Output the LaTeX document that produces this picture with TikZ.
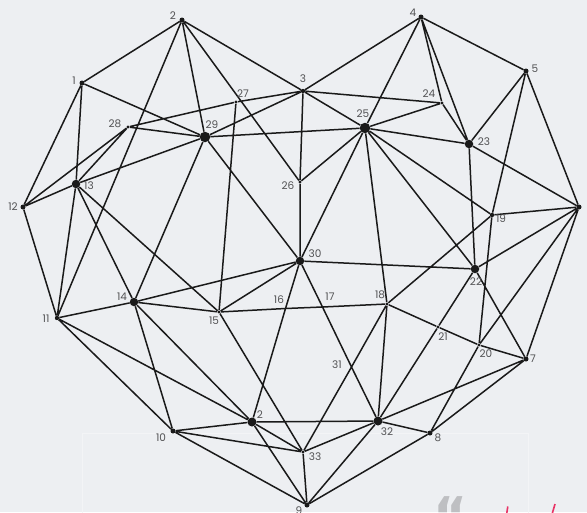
\documentclass[tikz,border=0pt]{standalone}
\usepackage{fontspec}
\setmainfont{Poppins}
\newfontfamily\guillfont{DejaVu Sans}
\usepackage{tikz}
\usepackage{xcolor}
\definecolor{fond}{RGB}{237,239,242}
\definecolor{cadre}{RGB}{243,244,246}
\definecolor{trait}{RGB}{26,26,26}
\definecolor{cgris}{RGB}{82,82,84}
\definecolor{cguill}{RGB}{190,191,194}
\definecolor{crose}{RGB}{232,52,102}

\tikzset{
  gros/.style={circle, fill=trait, inner sep=0pt, minimum size=8.5pt},
  moyen/.style={circle, fill=trait, inner sep=0pt, minimum size=5pt},
  petit/.style={circle, fill=trait, inner sep=0pt, minimum size=3.4pt},
  arete/.style={draw=trait, line width=1.5pt},
  etiq/.style={text=cgris, font=\fontsize{10.5}{11}\selectfont, inner sep=0pt},
}

\begin{document}
\begin{tikzpicture}[x=1pt, y=-1pt]
\useasboundingbox (0,0) rectangle (587,512);
\clip (0,0) rectangle (587,512);
% fond
\fill[fond] (0,0) rectangle (587,512);
\draw[cadre, line width=0.8pt] (82,520) |- (528,433) -- (528,520);
% guillemet (coupé en bas)
\node[text=cguill, font=\guillfont\bfseries\fontsize{52}{52}\selectfont, inner sep=0pt, anchor=base] (guill) at (451,534.5) {“};
\draw[crose, line width=1.6pt] (507.8,506.5) -- (506.8,513);
\draw[crose, line width=1.6pt] (555,504) -- (552.4,513);
% sommets
\node[moyen] (n1) at (82,83) {};
\node[moyen] (n2) at (182,20) {};
\node[moyen, minimum size=4.4pt] (n3) at (303,91) {};
\node[moyen] (n4) at (421,17) {};
\node[moyen] (n5) at (526,71) {};
\node[moyen] (n6) at (579,207) {};
\node[moyen] (n7) at (526,359) {};
\node[moyen] (n8) at (430,433) {};
\node[moyen] (n9) at (307,505) {};
\node[moyen] (n10) at (173,431) {};
\node[moyen, minimum size=4.4pt] (n11) at (57,318) {};
\node[moyen] (n12) at (23,207) {};
\node[gros] (n13) at (76,184) {};
\node[gros] (n14) at (134,302) {};
\node[petit] (n15) at (219,312) {};
\coordinate (n16) at (285.5,308.5);
\coordinate (n17) at (322.5,307);
\node[petit] (n18) at (387,304) {};
\node[moyen, minimum size=4.4pt] (n19) at (492,215) {};
\node[petit] (n20) at (479,345) {};
\node[petit] (n21) at (438,327) {};
\node[gros] (n22) at (475,269) {};
\node[gros] (n23) at (469,144) {};
\node[petit] (n24) at (442,103) {};
\node[gros, minimum size=10.5pt] (n25) at (365,128) {};
\node[petit] (n26) at (300,182) {};
\node[petit] (n27) at (236,102) {};
\node[petit] (n28) at (128,127) {};
\node[gros, minimum size=10.5pt] (n29) at (205,137) {};
\node[gros] (n30) at (300,261) {};
\coordinate (n31) at (351.5,367);
\node[gros, minimum size=9pt] (n32) at (378,421) {};
\node[petit] (n33) at (303,452) {};
\node[gros, minimum size=9pt] (n2b) at (252,422) {};
% aretes
\draw[arete]
  (n2) -- (n1) (n2) -- (n11) (n2) -- (n29) (n2) -- (n26) (n2) -- (n3)
  (n1) -- (n12) (n1) -- (n13) (n1) -- (n29)
  (n12) -- (n28) (n12) -- (n13) (n12) -- (n11)
  (n13) -- (n28) (n13) -- (n29) (n13) -- (n11) (n13) -- (n14) (n13) -- (n15)
  (n28) -- (n27) -- (n3) (n28) -- (n29) (n27) -- (n15)
  (n29) -- (n3) (n29) -- (n25) (n29) -- (n14) (n29) -- (n30)
  (n3) -- (n4) (n3) -- (n24) (n3) -- (n25) (n3) -- (n26)
  (n26) -- (n25) (n26) -- (n30)
  (n4) -- (n25) (n4) -- (n24) (n4) -- (n23) (n4) -- (n5)
  (n24) -- (n25) (n24) -- (n23)
  (n25) -- (n23) (n25) -- (n30) (n25) -- (n18) (n25) -- (n22) (n25) -- (n19)
  (n5) -- (n23) (n5) -- (n6) (n5) -- (n19)
  (n23) -- (n6) (n23) -- (n22)
  (n6) -- (n19) (n6) -- (n22) (n6) -- (n20) (n6) -- (n7)
  (n19) -- (n20) (n19) -- (n18)
  (n22) -- (n30) (n22) -- (n21) -- (n32) (n22) -- (n7)
  (n18) -- (n21) -- (n20) -- (n7) (n20) -- (n8)
  (n7) -- (n32) (n7) -- (n8)
  (n8) -- (n32) (n8) -- (n9);
\draw[arete]
  (n11) -- (n14) (n11) -- (n10) (n11) -- (n2b)
  (n14) -- (n30) (n14) -- (n15) (n14) -- (n10) (n14) -- (n2b)
  (n15) -- (n16) -- (n17) -- (n18) (n15) -- (n30) (n15) -- (n33)
  (n30) -- (n16) -- (n2b) (n30) -- (n17) -- (n31) -- (n32)
  (n18) -- (n31) -- (n33) (n18) -- (n32)
  (n10) -- (n2b) (n10) -- (n33) (n10) -- (n9)
  (n2b) -- (n32) (n2b) -- (n33) (n2b) -- (n9)
  (n33) -- (n32) (n33) -- (n9) (n32) -- (n9);
% numeros
\node[etiq] (e1) at (74,81) {1};
\node[etiq] (e2) at (173,16) {2};
\node[etiq] (e3) at (303,79) {3};
\node[etiq] (e4) at (413,13) {4};
\node[etiq] (e5) at (535,69) {5};
\node[etiq] (e6) at (590,207) {6};
\node[etiq] (e7) at (533,359) {7};
\node[etiq] (e8) at (438,438) {8};
\node[etiq] (e9) at (299,511) {9};
\node[etiq] (e10) at (161,438) {10};
\node[etiq] (e11) at (46,319) {11};
\node[etiq] (e12) at (13,207) {12};
\node[etiq] (e13) at (89,186) {13};
\node[etiq] (e14) at (122,297) {14};
\node[etiq] (e15) at (214,321) {15};
\node[etiq] (e16) at (279,300) {16};
\node[etiq] (e17) at (330,297) {17};
\node[etiq] (e18) at (380,295) {18};
\node[etiq] (e19) at (501,219) {19};
\node[etiq] (e20) at (486,354) {20};
\node[etiq] (e21) at (443,337) {21};
\node[etiq] (e22) at (476,282) {22};
\node[etiq] (e23) at (484,142) {23};
\node[etiq] (e24) at (429,94) {24};
\node[etiq] (e25) at (363,114) {25};
\node[etiq] (e26) at (288,186) {26};
\node[etiq] (e27) at (243,94) {27};
\node[etiq] (e28) at (115,124) {28};
\node[etiq] (e29) at (212,125) {29};
\node[etiq] (e30) at (315,254) {30};
\node[etiq] (e31) at (337,365) {31};
\node[etiq] (e32) at (387,432) {32};
\node[etiq] (e33) at (315,457) {33};
\node[etiq] (e2b) at (260,415) {2};
\end{tikzpicture}
\end{document}
